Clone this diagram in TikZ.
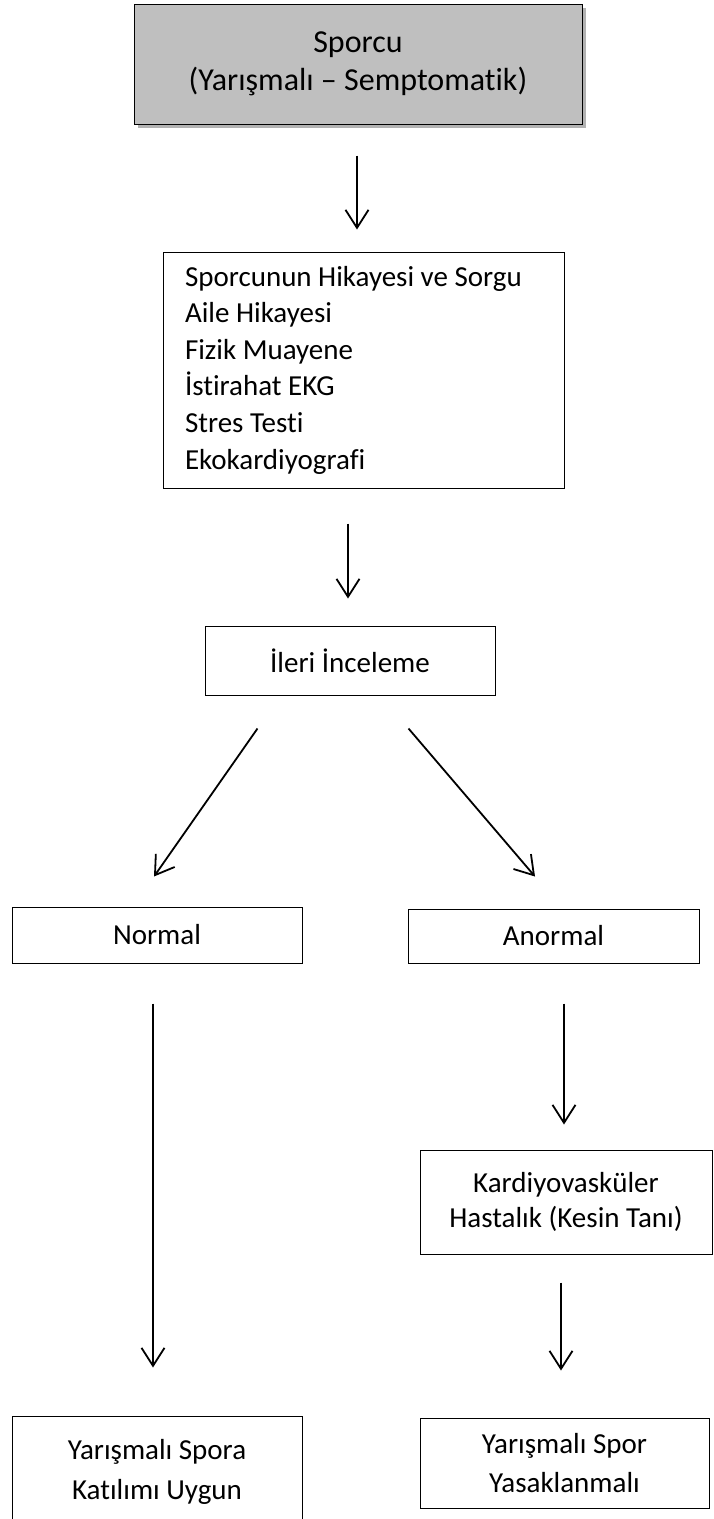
\documentclass[tikz,border=0pt]{standalone}
\usepackage{fontspec}
\setmainfont{Carlito}[Ligatures=NoCommon]
\usetikzlibrary{arrows.meta,shadows}

\begin{document}
\begin{tikzpicture}[x=1pt,y=-1pt,
    kutu/.style={draw, line width=1pt, align=center, inner sep=0pt, font=\fontsize{29}{38}\selectfont},
    ok/.style={line width=1.8pt, -{Straight Barb[length=18pt,width=23pt]}}]
    \useasboundingbox (0,0) rectangle (713,1519);
    % kutular
    \node[kutu, fill=black!25, minimum width=448, minimum height=120, font=\fontsize{32}{38}\selectfont,
        drop shadow={shadow xshift=4pt, shadow yshift=-4pt, fill=black!60, opacity=.5}]
        (sporcu) at (358,64) {Sporcu\\(Yarışmalı – Semptomatik)};
    \node[kutu, align=flush left, text width=357pt, inner xsep=22pt, minimum height=236,
        font=\fontsize{29}{36.6}\selectfont] (oyku) at (363.5,370)
        {Sporcunun Hikayesi ve Sorgu\\Aile Hikayesi\\Fizik Muayene\\İstirahat EKG\\Stres Testi\\Ekokardiyografi};
    \node[kutu, minimum width=290, minimum height=69] (ileri) at (350,660.5) {İleri İnceleme};
    \node[kutu, minimum width=290, minimum height=56] (normal) at (157,935) {Normal};
    \node[kutu, minimum width=291, minimum height=54] (anormal) at (553.5,936) {Anormal};
    \node[kutu, minimum width=292, minimum height=104, font=\fontsize{29}{35}\selectfont]
        (kardiyo) at (566,1202) {Kardiyovasküler\\Hastalık (Kesin Tanı)};
    \node[kutu, minimum width=290, minimum height=112, font=\fontsize{29}{40}\selectfont]
        (uygun) at (157,1472) {Yarışmalı Spora\\Katılımı Uygun};
    \node[kutu, minimum width=289, minimum height=90, font=\fontsize{29}{39}\selectfont]
        (yasak) at (564.5,1463) {Yarışmalı Spor\\Yasaklanmalı};
    % oklar
    \draw[ok] ([shift={(-1,31)}]sporcu.south) -- ([shift={(-6.5,-22)}]oyku.north);
    \draw[ok] ([shift={(-15.5,35)}]oyku.south) -- ([shift={(-2,-27)}]ileri.north);
    \draw[ok] ([shift={(53,33)}]ileri.south west) -- ([shift={(-3,-30)}]normal.north);
    \draw[ok] ([shift={(-87,33)}]ileri.south east) -- ([shift={(-18.5,-32)}]anormal.north);
    \draw[ok] ([shift={(-4,40)}]normal.south) -- ([shift={(-4,-48)}]uygun.north);
    \draw[ok] ([shift={(10.5,40)}]anormal.south) -- ([shift={(-2,-25)}]kardiyo.north);
    \draw[ok] ([shift={(-5,28)}]kardiyo.south) -- ([shift={(-3.5,-47)}]yasak.north);
\end{tikzpicture}
\end{document}
